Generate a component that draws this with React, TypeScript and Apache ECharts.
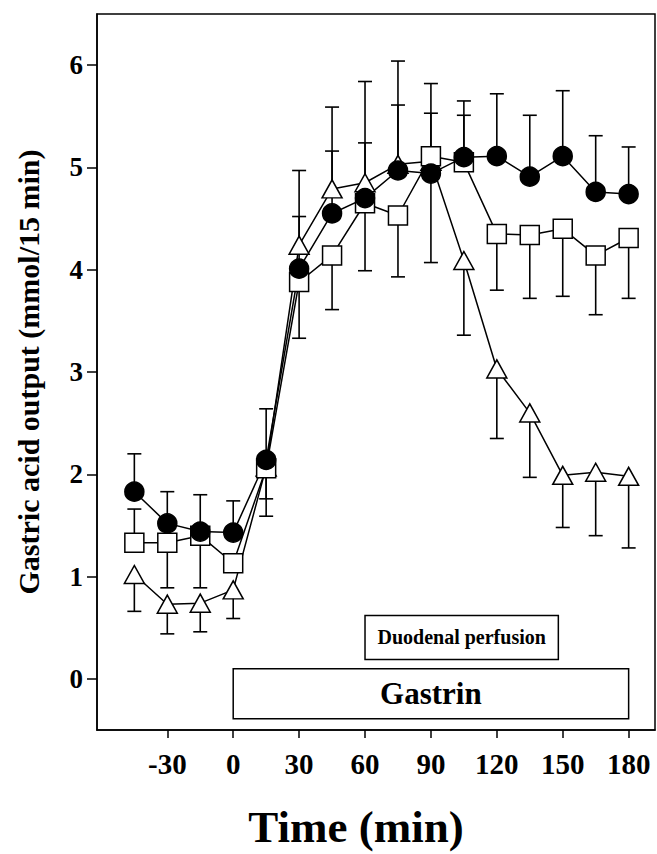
import React, { useEffect, useRef } from "react";
import * as echarts from "echarts";

const times = [-45, -30, -15, 0, 15, 30, 45, 60, 75, 90, 105, 120, 135, 150, 165, 180];
const circleVals = [1.83, 1.52, 1.44, 1.43, 2.14, 4.01, 4.55, 4.70, 4.97, 4.94, 5.10, 5.11, 4.91, 5.11, 4.76, 4.74];
const circleErr = [2.20, 1.83, 1.80, 1.74, 2.64, 4.52, 5.16, 5.24, 5.61, 5.53, 5.65, 5.72, 5.51, 5.75, 5.31, 5.20];
const squareVals = [1.33, 1.33, 1.40, 1.13, 2.06, 3.88, 4.14, 4.65, 4.53, 5.11, 5.05, 4.35, 4.34, 4.40, 4.14, 4.31];
const squareErr = [1.66, 0.89, 0.89, null, 1.59, 3.33, 3.61, 3.99, 3.93, 5.82, 5.51, 3.80, 3.72, 3.74, 3.56, 3.72];
const triVals = [1.02, 0.73, 0.74, 0.87, 2.07, 4.24, 4.79, 4.85, 5.03, 5.06, 4.09, 3.03, 2.60, 1.99, 2.02, 1.98];
const triErr = [0.66, 0.44, 0.46, 0.59, 1.76, 4.97, 5.59, 5.84, 6.04, 4.07, 3.36, 2.35, 1.97, 1.48, 1.40, 1.28];
const xTicks = [-30, 0, 30, 60, 90, 120, 150, 180];
const yTicks = [0, 1, 2, 3, 4, 5, 6];
const gastrinBox = { label: "Gastrin", x: [0, 180], y: [-0.39, 0.1] };
const duodenalBox = { label: "Duodenal perfusion", x: [60, 148], y: [0.19, 0.62] };

const FONT = "'Liberation Serif', 'DejaVu Serif', serif";

function errSeries(vals: number[], errs: (number | null)[]) {
  const data = times
    .map((t, i) => (errs[i] == null ? null : [t, vals[i], errs[i]]))
    .filter((d) => d !== null);
  return {
    type: "custom",
    z: 1,
    data,
    renderItem: (_p: any, api: any) => {
      const p1 = api.coord([api.value(0), api.value(1)]);
      const p2 = api.coord([api.value(0), api.value(2)]);
      return {
        type: "group",
        children: [
          { type: "line", shape: { x1: p1[0], y1: p1[1], x2: p2[0], y2: p2[1] }, style: { stroke: "#000", lineWidth: 1.6 } },
          { type: "line", shape: { x1: p2[0] - 7, y1: p2[1], x2: p2[0] + 7, y2: p2[1] }, style: { stroke: "#000", lineWidth: 1.6 } },
        ],
      };
    },
  };
}

function lineSeries(vals: number[], symbol: string, size: any, fill: string, extra: any = {}) {
  return {
    type: "line",
    z: 3,
    data: times.map((t, i) => [t, vals[i]]),
    symbol,
    symbolSize: size,
    showSymbol: true,
    lineStyle: { color: "#000", width: 1.5 },
    itemStyle: { color: fill, borderColor: "#000", borderWidth: 1.5 },
    ...extra,
  };
}

export default function App() {
  const ref = useRef<HTMLDivElement>(null);
  useEffect(() => {
    const chart = echarts.init(ref.current!, undefined, { renderer: "svg" });
    chart.setOption({
      animation: false,
      backgroundColor: "#fff",
      grid: { left: 97, right: 2, top: 14, bottom: 116, show: true, borderColor: "#000", borderWidth: 1.5, backgroundColor: "transparent" },
      xAxis: {
        type: "value",
        min: -62,
        max: 192,
        axisLine: { show: true, onZero: false, lineStyle: { color: "#000", width: 1.5 } },
        splitLine: { show: false },
        axisTick: { show: true, inside: false, length: 8, customValues: xTicks, lineStyle: { color: "#000", width: 1.5 } },
        axisLabel: { customValues: xTicks, color: "#000", fontFamily: FONT, fontWeight: "bold", fontSize: 29, margin: 19 },
        name: "Time (min)",
        nameLocation: "middle",
        nameGap: 74,
        nameTextStyle: { color: "#000", fontFamily: FONT, fontWeight: "bold", fontSize: 45, padding: [0, 40, 0, 0] },
      },
      yAxis: {
        type: "value",
        min: -0.5,
        max: 6.5,
        axisLine: { show: true, onZero: false, lineStyle: { color: "#000", width: 1.5 } },
        splitLine: { show: false },
        axisTick: { show: true, inside: false, length: 10, customValues: yTicks, lineStyle: { color: "#000", width: 1.5 } },
        axisLabel: { customValues: yTicks, color: "#000", fontFamily: FONT, fontWeight: "bold", fontSize: 27, margin: 14 },
        name: "Gastric acid output (mmol/15 min)",
        nameLocation: "middle",
        nameGap: 54,
        nameTextStyle: { color: "#000", fontFamily: FONT, fontWeight: "bold", fontSize: 30 },
      },
      series: [
        errSeries(circleVals, circleErr),
        errSeries(squareVals, squareErr),
        errSeries(triVals, triErr),
        lineSeries(triVals, "triangle", [20, 18], "#fff", {
          markArea: {
            silent: true,
            itemStyle: { color: "#fff", borderColor: "#000", borderWidth: 1.5 },
            label: { show: true, position: "inside", color: "#000", fontFamily: FONT, fontWeight: "bold" },
            data: [
              [
                { xAxis: gastrinBox.x[0], yAxis: gastrinBox.y[0], name: gastrinBox.label, label: { fontSize: 31 } },
                { xAxis: gastrinBox.x[1], yAxis: gastrinBox.y[1] },
              ],
              [
                { xAxis: duodenalBox.x[0], yAxis: duodenalBox.y[0], name: duodenalBox.label, label: { fontSize: 20 } },
                { xAxis: duodenalBox.x[1], yAxis: duodenalBox.y[1] },
              ],
            ],
          },
        }),
        lineSeries(squareVals, "rect", 19, "#fff"),
        lineSeries(circleVals, "circle", 19, "#000"),
      ],
    });
    return () => chart.dispose();
  }, []);
  return <div ref={ref} style={{ width: 657, height: 854, position: "absolute", left: 0, top: 0 }} />;
}
